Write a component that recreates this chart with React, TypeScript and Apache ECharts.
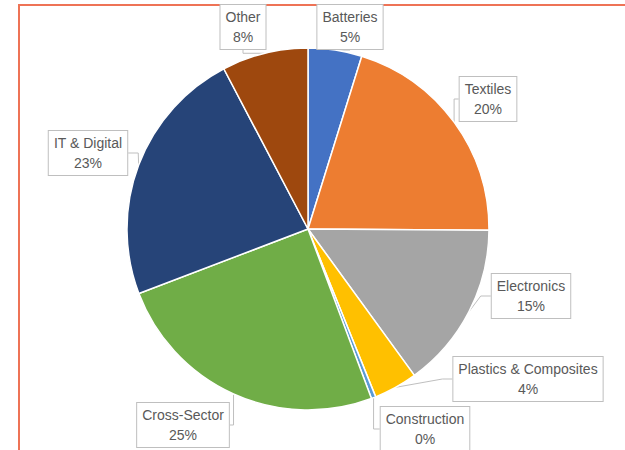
import React, { useEffect, useRef } from "react";
import * as echarts from "echarts";

const categories = [
  "Batteries",
  "Textiles",
  "Electronics",
  "Plastics & Composites",
  "Construction",
  "Cross-Sector",
  "IT & Digital",
  "Other",
];
const values = [4.8, 20.3, 14.9, 3.9, 0.4, 24.9, 23.1, 7.7];
const colors = ["#4472C4", "#ED7D31", "#A5A5A5", "#FFC000", "#5B9BD5", "#70AD47", "#264478", "#9E480E"];
// label box centres (layout only)
const labelCenters: [number, number][] = [
  [350, 27],
  [488, 99],
  [531, 296],
  [528, 379],
  [425, 429],
  [183, 425],
  [88, 153],
  [243, 27],
];

export default function App() {
  const ref = useRef<HTMLDivElement>(null);
  useEffect(() => {
    const chart = echarts.init(ref.current!, null, { renderer: "svg" });
    chart.setOption({
      animation: false,
      backgroundColor: "#ffffff",
      graphic: [
        {
          type: "rect",
          shape: { x: 19, y: 5, width: 800, height: 600 },
          style: { fill: "none", stroke: "#EE7356", lineWidth: 2 },
          z: 0,
        },
      ],
      series: [
        {
          type: "pie",
          center: [308, 229],
          radius: 181,
          startAngle: 90,
          clockwise: true,
          avoidLabelOverlap: false,
          itemStyle: { borderColor: "#ffffff", borderWidth: 1.5 },
          data: categories.map((c, i) => ({
            name: c,
            value: values[i],
            itemStyle: { color: colors[i] },
          })),
          label: {
            show: true,
            position: "outside",
            formatter: (p: any) => `${p.name}\n${Math.round(p.percent)}%`,
            color: "#595959",
            fontFamily: "Liberation Sans, Arial, sans-serif",
            fontSize: 14,
            lineHeight: 20,
            align: "center",
            backgroundColor: "#ffffff",
            borderColor: "#BFBFBF",
            borderWidth: 1,
            padding: [2, 5, 2, 5],
          },
          labelLine: {
            show: true,
            length: 10,
            length2: 10,
            lineStyle: { color: "#BFBFBF", width: 1 },
          },
          labelLayout: (params: any) => {
            const c = labelCenters[params.dataIndex];
            return { x: c[0], y: c[1], align: "center", verticalAlign: "middle" };
          },
        },
      ],
    });
    return () => chart.dispose();
  }, []);
  return (
    <div
      ref={ref}
      style={{ position: "fixed", left: 0, top: 0, width: 625, height: 450 }}
    />
  );
}
